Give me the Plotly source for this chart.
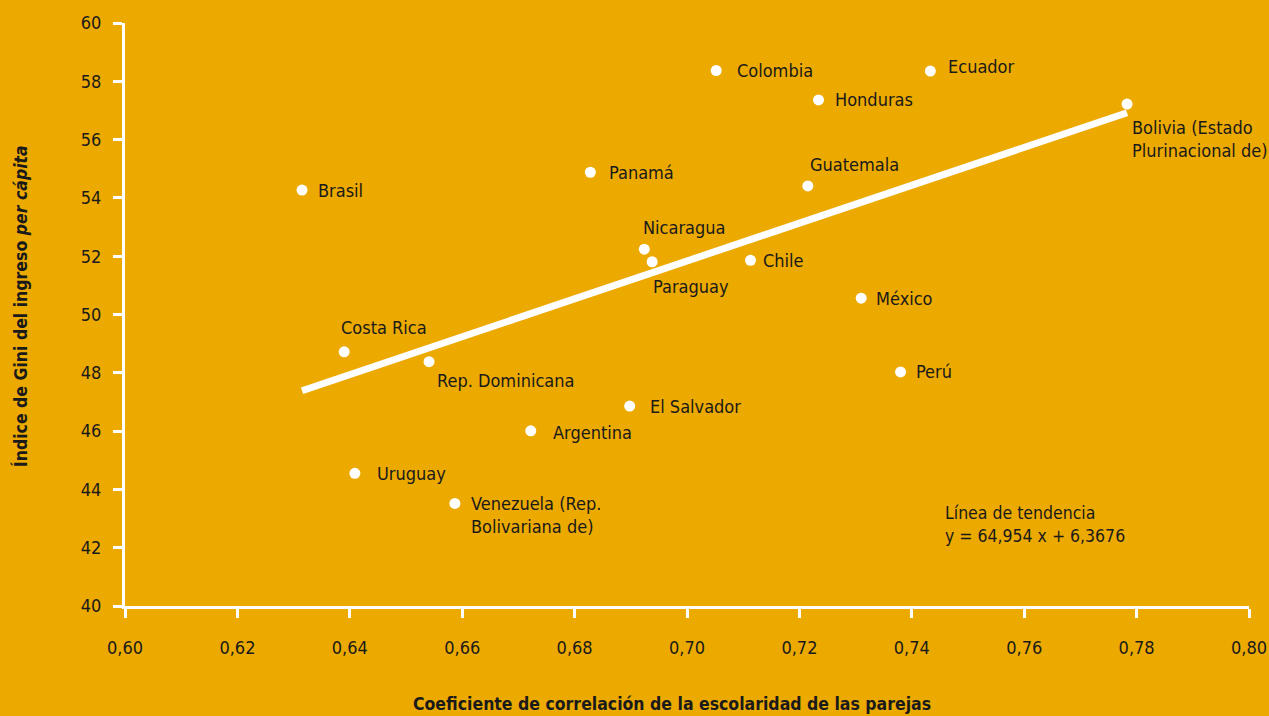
import plotly.graph_objects as go

# =============================================================================
# DATA
# =============================================================================

countries = [
    "Brasil", "Costa Rica", "Rep. Dominicana", "Uruguay",
    "Venezuela (Rep.<br>Bolivariana de)", "Argentina", "El Salvador", "Panamá",
    "Nicaragua", "Paraguay", "Chile", "Colombia", "Honduras", "Guatemala",
    "México", "Perú", "Ecuador", "Bolivia (Estado<br>Plurinacional de)",
]
correlation = [
    0.6315, 0.6390, 0.6541, 0.6409, 0.6587, 0.6722, 0.6898, 0.6828,
    0.6924, 0.6938, 0.7113, 0.7052, 0.7234, 0.7215, 0.7310, 0.7380,
    0.7433, 0.7783,
]
gini = [
    54.27, 48.72, 48.38, 44.55, 43.52, 46.01, 46.86, 54.88,
    52.24, 51.81, 51.86, 58.37, 57.36, 54.41, 50.56, 48.03,
    58.35, 57.22,
]

trend_slope = 64.954
trend_intercept = 6.3676

x_ticks = [0.60, 0.62, 0.64, 0.66, 0.68, 0.70, 0.72, 0.74, 0.76, 0.78, 0.80]
y_ticks = [40, 42, 44, 46, 48, 50, 52, 54, 56, 58, 60]

# =============================================================================
# STYLE
# =============================================================================

BG = "#ECA900"
TEXT = "#1a1a1a"
FONT = "DejaVu Sans Condensed, Liberation Sans Narrow, sans-serif"

# label placement per country: (xshift, yshift, xanchor, yanchor)
LABEL_POS = {
    "Brasil": (14, 0, "left", "middle"),
    "Costa Rica": (-5, 24, "left", "middle"),
    "Rep. Dominicana": (6, -19, "left", "middle"),
    "Uruguay": (20, 0, "left", "middle"),
    "Venezuela": (14, 12, "left", "top"),
    "Argentina": (20, -2, "left", "middle"),
    "El Salvador": (18, 0, "left", "middle"),
    "Panamá": (17, 0, "left", "middle"),
    "Nicaragua": (-3, 22, "left", "middle"),
    "Paraguay": (-1, -25, "left", "middle"),
    "Chile": (10, 0, "left", "middle"),
    "Colombia": (19, 0, "left", "middle"),
    "Honduras": (14, 0, "left", "middle"),
    "Guatemala": (0, 21, "left", "middle"),
    "México": (13, 0, "left", "middle"),
    "Perú": (13, 0, "left", "middle"),
    "Ecuador": (16, 5, "left", "middle"),
    "Bolivia": (3, -11, "left", "top"),
}

# =============================================================================
# FIGURE
# =============================================================================

fig = go.Figure()

x0, x1 = min(correlation), max(correlation)
fig.add_trace(go.Scatter(
    x=[x0, x1],
    y=[trend_slope * x0 + trend_intercept, trend_slope * x1 + trend_intercept],
    mode="lines",
    line=dict(color="white", width=7),
    hoverinfo="skip",
    showlegend=False,
))

fig.add_trace(go.Scatter(
    x=correlation,
    y=gini,
    mode="markers",
    marker=dict(color="white", size=11),
    text=countries,
    hovertemplate="%{text}<br>%{x:.3f}, %{y:.2f}<extra></extra>",
    showlegend=False,
))

for name, xv, yv in zip(countries, correlation, gini):
    key = name.split(" (")[0]
    dx, dy, xa, ya = LABEL_POS[key]
    fig.add_annotation(
        x=xv, y=yv, text=name, showarrow=False,
        xanchor=xa, yanchor=ya, xshift=dx, yshift=dy,
        align="left", font=dict(size=18, color=TEXT, family=FONT),
    )

# trend equation
fig.add_annotation(
    x=0.7455, y=42.8, xref="x", yref="y",
    text=f"Línea de tendencia<br>y = {str(trend_slope).replace('.', ',')} x + "
         f"{str(trend_intercept).replace('.', ',')}",
    showarrow=False, xanchor="left", yanchor="middle", align="left",
    font=dict(size=17.5, color=TEXT, family=FONT),
)

# axis titles
fig.add_annotation(
    x=0.487, y=-0.168, xref="paper", yref="paper",
    text="<b>Coeficiente de correlación de la escolaridad de las parejas</b>",
    showarrow=False, xanchor="center", yanchor="middle",
    font=dict(size=17.5, color=TEXT, family=FONT),
)
fig.add_annotation(
    x=-0.0924, y=0.5146, xref="paper", yref="paper",
    text="<b>Índice de Gini del ingreso <i>per cápita</i></b>",
    textangle=-90, showarrow=False, xanchor="center", yanchor="middle",
    font=dict(size=17.5, color=TEXT, family=FONT),
)

axis_common = dict(
    showgrid=False, zeroline=False, automargin=False,
    showline=True, linecolor="white", linewidth=3,
    ticks="outside", tickcolor="white", ticklen=9, tickwidth=3,
    tickfont=dict(size=18, color=TEXT, family=FONT),
)

fig.update_layout(
    width=1269, height=716,
    paper_bgcolor=BG, plot_bgcolor=BG,
    margin=dict(l=125, r=20, t=23, b=110),
    font=dict(family=FONT, color=TEXT),
    xaxis=dict(
        axis_common,
        range=[0.60, 0.80],
        tickvals=x_ticks,
        ticktext=[f"{v:.2f}".replace(".", ",") for v in x_ticks],
        ticklabelstandoff=14,
    ),
    yaxis=dict(
        axis_common,
        range=[40, 60],
        tickvals=y_ticks,
        ticktext=[str(v) for v in y_ticks],
        ticklabelstandoff=8,
    ),
)

fig.write_html(
    "out.html",
    config={"displayModeBar": False},
    post_script="document.body.style.margin='0';",
)
